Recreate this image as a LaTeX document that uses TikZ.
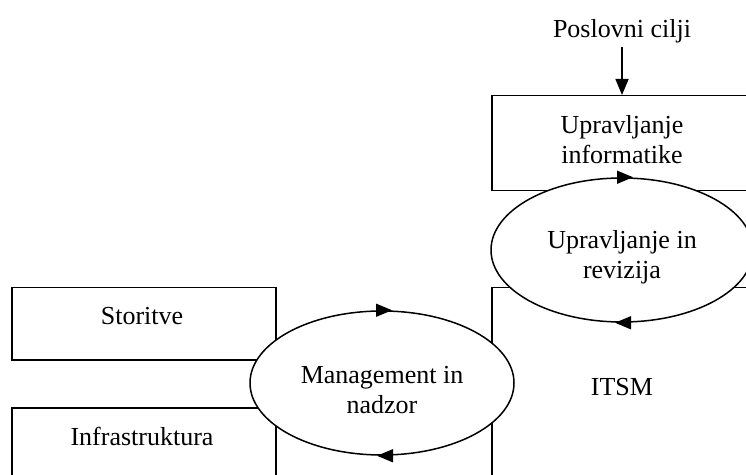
\documentclass[tikz,border=0pt]{standalone}
\usepackage{fontspec}
\setmainfont{Liberation Serif}
\usetikzlibrary{arrows.meta,shapes.geometric}

\tikzset{
  lw/.style={line width=1.5bp},
  box/.style={lw, draw=black, rectangle, inner sep=0pt, anchor=north west},
  oval/.style={lw, draw=black, fill=white, ellipse, inner sep=0pt},
  txt/.style={align=center, inner sep=0pt, font=\fontsize{26bp}{30bp}\selectfont},
  tip/.style={lw, -{Triangle[length=16bp,width=13bp]}},
}

\begin{document}
\begin{tikzpicture}[x=1bp,y=-1bp]
  \useasboundingbox (0,0) rectangle (746,475);
  \clip (0,0) rectangle (746,475);

  % rectangles (some run past the page edge)
  \node[box, minimum width=262bp, minimum height=95bp] (gov) at (491,95) {};
  \node[box, minimum width=262bp, minimum height=220bp] (itsm) at (491,287) {};
  \node[box, minimum width=264bp, minimum height=72bp] (svc) at (11,287) {};
  \node[box, minimum width=264bp, minimum height=80bp] (infra) at (11,407) {};

  % box labels
  \node[txt] (govt) at (622,140) {Upravljanje\\informatike};
  \node[txt] (itsmt) at (622,387) {ITSM};
  \node[txt] (svct) at (142,316) {Storitve};
  \node[txt] (infrat) at (142,436) {Infrastruktura};

  % business goals feeding IT governance
  \node[txt] (goals) at (622,31) {Poslovni cilji};
  \draw[tip] (622,47) -- (gov.north west -| 622,95);

  % cycles
  \node[oval, minimum width=262bp, minimum height=144bp] (audit) at (622,250) {};
  \node[txt] (auditt) at (622,257) {Upravljanje in\\revizija};
  \node[oval, minimum width=264bp, minimum height=144bp] (mgmt) at (382,383) {};
  \node[txt] (mgmtt) at (382,390) {Management in\\nadzor};

  % direction marks on the cycles (clockwise)
  \draw[tip] ([xshift=9bp]audit.north) -- ([xshift=11bp]audit.north);
  \draw[tip] ([xshift=-5bp]audit.south) -- ([xshift=-7bp]audit.south);
  \draw[tip] ([xshift=8bp]mgmt.north) -- ([xshift=10bp]mgmt.north);
  \draw[tip] ([xshift=-3bp]mgmt.south) -- ([xshift=-5bp]mgmt.south);
\end{tikzpicture}
\end{document}
